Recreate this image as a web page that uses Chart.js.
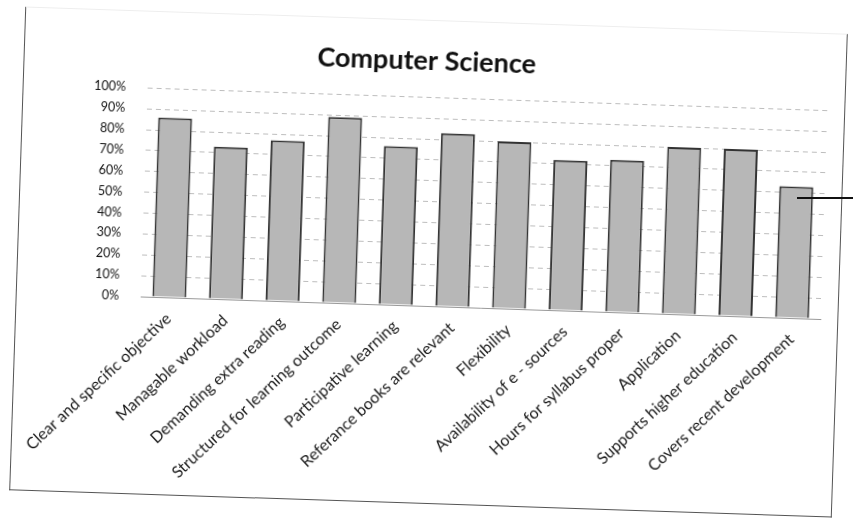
<!DOCTYPE html>
<html>
<head>
<meta charset="utf-8">
<script src="https://cdn.jsdelivr.net/npm/chart.js@4"></script>
<style>
  html, body { margin: 0; padding: 0; background: #fff; }
  body { width: 853px; height: 520px; position: relative; overflow: hidden; }
  #box {
    position: absolute; left: 17px; top: 20px; width: 821px; height: 482px;
    border: 1px solid #555; border-top-color: #eee;
    transform: rotate(1.9deg); transform-origin: center center;
  }
  #marker { position: absolute; left: 797px; top: 197px; width: 56px; height: 2px; background: #111; }
</style>
</head>
<body>
<div id="box"><canvas id="chart" width="821" height="482"></canvas></div>
<div id="marker"></div>
<script>
// survey items (x axis)
const categories = [
    "Clear and specific objective",
    "Managable workload",
    "Demanding extra reading",
    "Structured for learning outcome",
    "Participative learning",
    "Referance books are relevant",
    "Flexibility",
    "Availability of e - sources",
    "Hours for syllabus proper",
    "Application",
    "Supports higher education",
    "Covers recent development"
];

// percent of respondents
const percentValues = [86, 73, 77, 89, 76, 83, 80, 72, 73, 80, 80, 63];

const yTicks = [0, 10, 20, 30, 40, 50, 60, 70, 80, 90, 100];

const ctx = document.getElementById("chart").getContext("2d");
new Chart(ctx, {
    type: "bar",
    data: {
        labels: categories,
        datasets: [
            {
                label: "Computer Science",
                data: percentValues,
                backgroundColor: "#b7b7b7",
                borderColor: "#333",
                borderWidth: 2,
                categoryPercentage: 1,
                barPercentage: 0.6,
            },
        ],
    },
    options: {
        responsive: false,
        animation: false,
        layout: { padding: { left: 0, right: 17, top: 0, bottom: 0 } },
        plugins: {
            legend: { display: false },
            tooltip: { enabled: false },
            title: {
                display: true,
                text: "Computer Science",
                color: "#111",
                font: { family: "Lato", size: 27, weight: "bold", lineHeight: 1.2 },
                padding: { top: 24, bottom: 20 },
            },
        },
        scales: {
            x: {
                grid: { display: false, drawTicks: false },
                border: { display: true, color: "#9a9a9a" },
                ticks: {
                    color: "#1a1a1a",
                    font: { family: "Lato", size: 16 },
                    minRotation: 45,
                    maxRotation: 45,
                    padding: 12,
                    autoSkip: false,
                },
                afterFit: (scale) => { scale.height = 197; },
            },
            y: {
                min: 0,
                max: 100,
                afterBuildTicks: (scale) => { scale.ticks = yTicks.map((v) => ({ value: v })); },
                grid: { color: "#bdbdbd", drawTicks: false, lineWidth: 1 },
                border: { display: false, dash: [5, 4] },
                ticks: {
                    color: "#111",
                    font: { family: "Lato", size: 12.5 },
                    padding: 22,
                    callback: (v) => v + "%",
                },
                afterFit: (scale) => { scale.width = 120; },
            },
        },
    },
});
</script>
</body>
</html>
